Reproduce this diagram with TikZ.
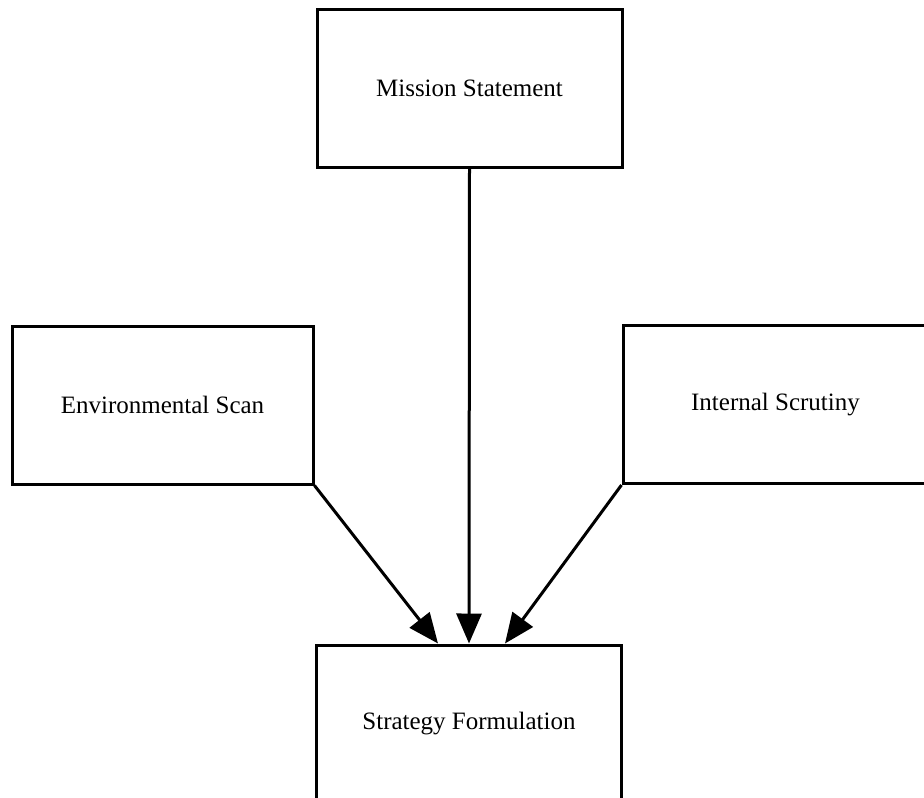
\documentclass[tikz,border=0pt]{standalone}
\usepackage{fontspec}
\setmainfont{Liberation Serif}
\usetikzlibrary{arrows.meta, positioning}

\begin{document}
\begin{tikzpicture}[x=1pt, y=-1pt,
    stagebox/.style={draw, line width=3pt, minimum width=305pt, minimum height=158pt, inner sep=0pt, font=\fontsize{25}{30}\selectfont},
    flowarrow/.style={line width=3pt, -{Triangle[length=30pt, width=25pt]}}]
  \useasboundingbox (0,0) rectangle (924,798);
  \clip (0,0) rectangle (924,798);

  % the four stages
  \node[stagebox] (mission) at (469.5,88) {Mission Statement};
  \node[stagebox, minimum width=301pt] (envscan) at (162.5,405) {Environmental Scan};
  \node[stagebox] (internal) at (775.5,404.5) {Internal Scrutiny};
  \node[stagebox] (strategy) at (469,724) {Strategy Formulation};

  % arrow ends on top of the strategy box
  \coordinate (inleft) at ([xshift=-31pt]strategy.north);
  \coordinate (inright) at ([xshift=36pt]strategy.north);

  \draw[flowarrow] (mission.south) -- (strategy.north);
  \draw[flowarrow] (envscan.south east) -- (inleft);
  \draw[flowarrow] (internal.south west) -- (inright);
\end{tikzpicture}
\end{document}
